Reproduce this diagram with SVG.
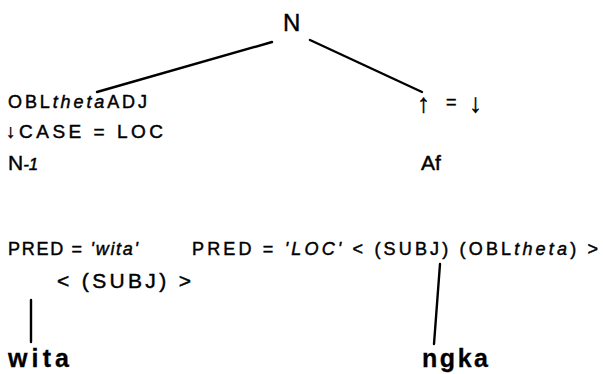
<svg xmlns="http://www.w3.org/2000/svg" width="603" height="374" viewBox="0 0 603 374">
<style>
text{font-family:"Liberation Sans",Arial,sans-serif;fill:#000;stroke:#000;stroke-width:0.45}
.s{font-size:18px}
.m{font-size:21px}
.b{font-size:25px;font-weight:bold;stroke-width:0.3}
.i{font-style:italic}
.a{font-size:26px}
line{stroke:#000;stroke-width:2.4;stroke-linecap:round}
</style>
<rect width="603" height="374" fill="#fff"/>
<g id="connectors">
<line x1="97" y1="92" x2="272" y2="42"/>
<line x1="310" y1="40" x2="422" y2="92"/>
<line x1="31" y1="300" x2="31" y2="342"/>
<line x1="440" y1="264" x2="434" y2="344"/>
</g>
<g id="node-N"><text x="283" y="31" style="font-size:24px">N</text></g>
<g id="node-N1">
<text class="s" x="8" y="108" textLength="139" lengthAdjust="spacing">OBL<tspan class="i">theta</tspan>ADJ</text>
<text class="s" x="6" y="138" textLength="157" lengthAdjust="spacing" style="font-size:19px">↓CASE = LOC</text>
<text class="m" x="8" y="170">N<tspan class="i" style="font-size:17px">-1</tspan></text>
</g>
<g id="node-Af">
<text class="a" x="417" y="112">↑</text>
<text class="s" x="446" y="108">=</text>
<text class="a" x="469" y="112">↓</text>
<text class="m" x="421" y="170">Af</text>
</g>
<g id="node-wita">
<text class="s" x="8" y="255" textLength="130" lengthAdjust="spacing">PRED = <tspan class="i">'wita'</tspan></text>
<text class="m" x="57" y="288" textLength="134" lengthAdjust="spacing">&lt; (SUBJ) &gt;</text>
<text class="b" x="8" y="367" textLength="61" lengthAdjust="spacing">wita</text>
</g>
<g id="node-ngka">
<text class="s" x="192" y="255" textLength="406" lengthAdjust="spacing">PRED = <tspan class="i">'LOC'</tspan> &lt; (SUBJ) (OBL<tspan class="i">theta</tspan>) &gt;</text>
<text class="b" x="422" y="367" textLength="66" lengthAdjust="spacing">ngka</text>
</g>
</svg>
